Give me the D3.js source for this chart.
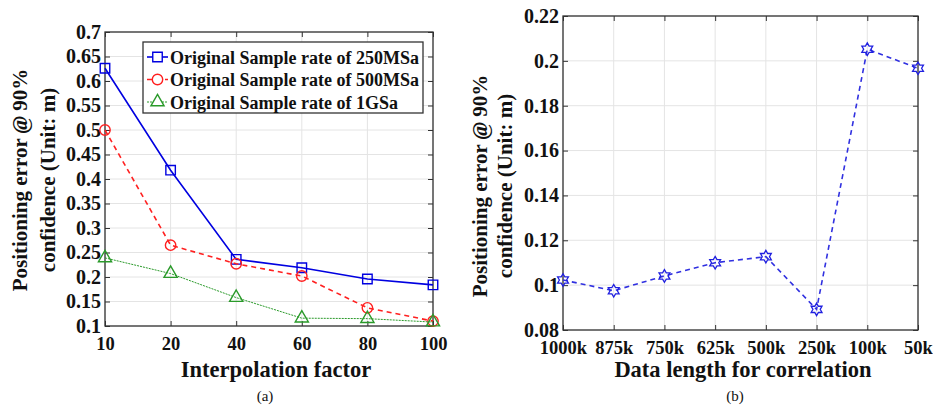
<!DOCTYPE html>
<html>
<head>
<meta charset="utf-8">
<script src="https://cdn.jsdelivr.net/npm/d3@7"></script>
<style>
  body { margin: 0; background: #fff; }
  svg text { font-family: "Liberation Serif", "Times New Roman", serif; }
</style>
</head>
<body>
<svg id="chart" width="933" height="405"></svg>
<script>
// ---- data: panel (a)
let factors = ["10", "20", "40", "60", "80", "100"];
let rate250 = [0.626, 0.418, 0.236, 0.219, 0.196, 0.184];
let rate500 = [0.500, 0.265, 0.227, 0.202, 0.137, 0.110];
let rate1G  = [0.239, 0.207, 0.158, 0.116, 0.115, 0.108];
let legendNames = ["Original Sample rate of 250MSa", "Original Sample rate of 500MSa", "Original Sample rate of 1GSa"];
let yTicksA = [0.1, 0.15, 0.2, 0.25, 0.3, 0.35, 0.4, 0.45, 0.5, 0.55, 0.6, 0.65, 0.7];

// ---- data: panel (b)
let lengths = ["1000k", "875k", "750k", "625k", "500k", "250k", "100k", "50k"];
let errB = [0.1023, 0.0975, 0.1041, 0.110, 0.1127, 0.0892, 0.2052, 0.1967];
let yTicksB = [0.08, 0.1, 0.12, 0.14, 0.16, 0.18, 0.2, 0.22];

let svg = d3.select("#chart");

// hexagram (matlab 'h' marker)
let hexagram = {
  draw(ctx, size) {
    let R = Math.sqrt(size) * 0.75, r = R / Math.sqrt(3);
    for (let i = 0; i < 12; i++) {
      let a = -Math.PI / 2 + i * Math.PI / 6;
      let rr = i % 2 ? r : R;
      if (i == 0) ctx.moveTo(rr * Math.cos(a), rr * Math.sin(a));
      else ctx.lineTo(rr * Math.cos(a), rr * Math.sin(a));
    }
    ctx.closePath();
  }
};

function drawFrame(g, x, y, yTicks, fmt, w, h) {
  // grid
  g.append("g").selectAll("line").data(x.domain()).join("line")
    .attr("x1", d => x(d)).attr("x2", d => x(d))
    .attr("y1", 0).attr("y2", h)
    .attr("stroke", "#e4e4e4").attr("stroke-width", 1);
  g.append("g").selectAll("line").data(yTicks).join("line")
    .attr("x1", 0).attr("x2", w)
    .attr("y1", d => y(d)).attr("y2", d => y(d))
    .attr("stroke", "#e4e4e4").attr("stroke-width", 1);

  // axes, ticks inward on all four sides
  let ax = [
    d3.axisBottom(x).tickSizeInner(-5).tickSizeOuter(0).tickPadding(11),
    d3.axisTop(x).tickSizeInner(-5).tickSizeOuter(0).tickFormat(""),
    d3.axisLeft(y).tickValues(yTicks).tickSizeInner(-5).tickSizeOuter(0).tickPadding(4).tickFormat(fmt),
    d3.axisRight(y).tickValues(yTicks).tickSizeInner(-5).tickSizeOuter(0).tickFormat("")
  ];
  let pos = ["translate(0," + h + ")", "translate(0,0)", "translate(0,0)", "translate(" + w + ",0)"];
  let fs = [18.5, 18.5, 20, 20];
  ax.forEach((a, i) => {
    let s = g.append("g").attr("transform", pos[i]).call(a);
    s.select(".domain").remove();
    s.selectAll("line").attr("stroke", "#333");
    s.selectAll("text")
      .attr("font-family", "Liberation Serif")
      .attr("font-weight", "bold")
      .attr("font-size", fs[i])
      .attr("fill", "#111");
  });
  g.append("rect").attr("width", w).attr("height", h)
    .attr("fill", "none").attr("stroke", "#333").attr("stroke-width", 1.3);
}

function yLabel(g, cx, cy, gap) {
  let lines = [["Positioning error ", "@", " 90%"], ["confidence (Unit: m)"]];
  lines.forEach((parts, i) => {
    let t = g.append("text")
      .attr("transform", "translate(" + (cx + i * gap) + "," + cy + ") rotate(-90)")
      .attr("text-anchor", "middle").attr("dy", "0.35em")
      .attr("font-weight", "bold").attr("font-size", 21).attr("fill", "#111");
    parts.forEach(p => t.append("tspan").text(p).attr("font-style", p == "@" ? "italic" : null));
  });
}

// ---------------- panel (a)
let mA = {left: 105, top: 32, w: 328, h: 294};
let gA = svg.append("g").attr("transform", "translate(" + mA.left + "," + mA.top + ")");
let xA = d3.scalePoint().domain(factors).range([0, mA.w]);
let yA = d3.scaleLinear().domain([0.1, 0.7]).range([mA.h, 0]);
drawFrame(gA, xA, yA, yTicksA, d => d3.format("")(+d.toFixed(2)), mA.w, mA.h);

let seriesA = [
  {vals: rate250, color: "#0000e0", dash: null, width: 1.6, sym: d3.symbolSquare, size: 90},
  {vals: rate500, color: "#ff2020", dash: "5,4", width: 1.6, sym: d3.symbolCircle, size: 85},
  {vals: rate1G,  color: "#2a9a2a", dash: "2,1", width: 1, sym: d3.symbolTriangle, size: 75}
];
let lineA = d3.line().x((d, i) => xA(factors[i])).y(d => yA(d));

seriesA.forEach(s => {
  gA.append("path").datum(s.vals)
    .attr("d", lineA).attr("fill", "none")
    .attr("stroke", s.color).attr("stroke-width", s.width)
    .attr("stroke-dasharray", s.dash);
  gA.append("g").selectAll("path").data(s.vals).join("path")
    .attr("transform", (d, i) => "translate(" + xA(factors[i]) + "," + yA(d) + ")")
    .attr("d", d3.symbol(s.sym, s.size))
    .attr("fill", "none").attr("stroke", s.color).attr("stroke-width", 1.4);
});

// legend
let leg = gA.append("g").attr("transform", "translate(38,10)");
leg.append("rect").attr("width", 280).attr("height", 71)
  .attr("fill", "#fff").attr("stroke", "#333").attr("stroke-width", 1.3);
seriesA.forEach((s, i) => {
  let row = leg.append("g").attr("transform", "translate(0," + (15 + i * 22.5) + ")");
  row.append("line").attr("x1", 4).attr("x2", 25)
    .attr("stroke", s.color).attr("stroke-width", s.width).attr("stroke-dasharray", s.dash);
  row.append("path").attr("transform", "translate(14.5,0)")
    .attr("d", d3.symbol(s.sym, s.size))
    .attr("fill", "#fff").attr("stroke", s.color).attr("stroke-width", 1.4);
  row.append("text").attr("x", 27).attr("y", 6.5)
    .attr("font-weight", "bold").attr("font-size", 18).attr("fill", "#111")
    .text(legendNames[i]);
});

svg.append("text").attr("x", 276).attr("y", 377).attr("text-anchor", "middle")
  .attr("font-weight", "bold").attr("font-size", 22.5).attr("fill", "#111")
  .text("Interpolation factor");
svg.append("text").attr("x", 265).attr("y", 401).attr("text-anchor", "middle")
  .attr("font-size", 15).attr("fill", "#111").text("(a)");
yLabel(svg, 20, 180, 28);

// ---------------- panel (b)
let mB = {left: 563, top: 16, w: 355, h: 314};
let gB = svg.append("g").attr("transform", "translate(" + mB.left + "," + mB.top + ")");
let xB = d3.scalePoint().domain(lengths).range([0, mB.w]);
let yB = d3.scaleLinear().domain([0.08, 0.22]).range([mB.h, 0]);
drawFrame(gB, xB, yB, yTicksB, d => d3.format("")(+d.toFixed(2)), mB.w, mB.h);

let lineB = d3.line().x((d, i) => xB(lengths[i])).y(d => yB(d));
gB.append("path").datum(errB)
  .attr("d", lineB).attr("fill", "none")
  .attr("stroke", "#3030e0").attr("stroke-width", 1.6)
  .attr("stroke-dasharray", "5,4");
gB.append("g").selectAll("path").data(errB).join("path")
  .attr("transform", (d, i) => "translate(" + xB(lengths[i]) + "," + yB(d) + ")")
  .attr("d", d3.symbol(hexagram, 70))
  .attr("fill", "none").attr("stroke", "#2020e0").attr("stroke-width", 1.3);

svg.append("text").attr("x", 743).attr("y", 377).attr("text-anchor", "middle")
  .attr("font-weight", "bold").attr("font-size", 22.5).attr("fill", "#111")
  .text("Data length for correlation");
svg.append("text").attr("x", 735).attr("y", 401).attr("text-anchor", "middle")
  .attr("font-size", 15).attr("fill", "#111").text("(b)");
yLabel(svg, 480, 186, 25);
</script>
</body>
</html>
